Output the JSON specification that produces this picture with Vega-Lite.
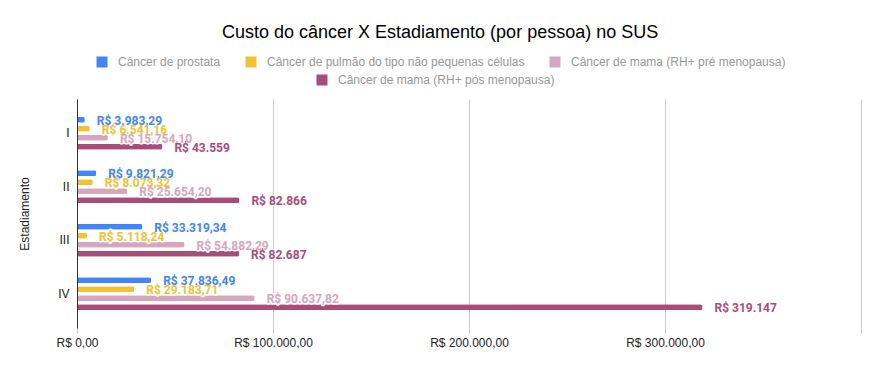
{
  "$schema": "https://vega.github.io/schema/vega-lite/v6.json",
  "width": 784,
  "height": 229,
  "autosize": "none",
  "padding": {"left": 77, "top": 99, "right": 19, "bottom": 43},
  "background": "white",
  "title": {
    "text": "Custo do câncer X Estadiamento (por pessoa) no SUS",
    "font": "Liberation Sans",
    "fontSize": 18,
    "fontWeight": "normal",
    "color": "#000000",
    "anchor": "middle",
    "frame": "bounds",
    "offset": 14
  },
  "data": {
    "values": [
      {"estadio": "I", "tipo": "Câncer de prostata", "valor": 3983.29, "rotulo": "R$ 3.983,29"},
      {"estadio": "I", "tipo": "Câncer de pulmão do tipo não pequenas células", "valor": 6541.16, "rotulo": "R$ 6.541,16"},
      {"estadio": "I", "tipo": "Câncer de mama (RH+ pré menopausa)", "valor": 15754.10, "rotulo": "R$ 15.754,10"},
      {"estadio": "I", "tipo": "Câncer de mama (RH+ pós menopausa)", "valor": 43559, "rotulo": "R$ 43.559"},
      {"estadio": "II", "tipo": "Câncer de prostata", "valor": 9821.29, "rotulo": "R$ 9.821,29"},
      {"estadio": "II", "tipo": "Câncer de pulmão do tipo não pequenas células", "valor": 8073.32, "rotulo": "R$ 8.073,32"},
      {"estadio": "II", "tipo": "Câncer de mama (RH+ pré menopausa)", "valor": 25654.20, "rotulo": "R$ 25.654,20"},
      {"estadio": "II", "tipo": "Câncer de mama (RH+ pós menopausa)", "valor": 82866, "rotulo": "R$ 82.866"},
      {"estadio": "III", "tipo": "Câncer de prostata", "valor": 33319.34, "rotulo": "R$ 33.319,34"},
      {"estadio": "III", "tipo": "Câncer de pulmão do tipo não pequenas células", "valor": 5118.24, "rotulo": "R$ 5.118,24"},
      {"estadio": "III", "tipo": "Câncer de mama (RH+ pré menopausa)", "valor": 54882.29, "rotulo": "R$ 54.882,29"},
      {"estadio": "III", "tipo": "Câncer de mama (RH+ pós menopausa)", "valor": 82687, "rotulo": "R$ 82.687"},
      {"estadio": "IV", "tipo": "Câncer de prostata", "valor": 37836.49, "rotulo": "R$ 37.836,49"},
      {"estadio": "IV", "tipo": "Câncer de pulmão do tipo não pequenas células", "valor": 29183.71, "rotulo": "R$ 29.183,71"},
      {"estadio": "IV", "tipo": "Câncer de mama (RH+ pré menopausa)", "valor": 90637.82, "rotulo": "R$ 90.637,82"},
      {"estadio": "IV", "tipo": "Câncer de mama (RH+ pós menopausa)", "valor": 319147, "rotulo": "R$ 319.147"}
    ]
  },
  "encoding": {
    "y": {
      "field": "estadio",
      "type": "nominal",
      "sort": ["I", "II", "III", "IV"],
      "scale": {"paddingInner": 0.35, "paddingOuter": 0.315},
      "axis": {
        "title": "Estadiamento",
        "titleFont": "Liberation Sans",
        "titleFontSize": 12,
        "titleFontWeight": "normal",
        "titleColor": "#222222",
        "titlePadding": 26,
        "labelFont": "Liberation Sans",
        "labelFontSize": 12,
        "labelColor": "#222222",
        "labelAngle": 0,
        "labelPadding": 8,
        "ticks": false,
        "domain": true,
        "domainColor": "#333333",
        "domainWidth": 1,
        "grid": false,
        "zindex": 2
      }
    },
    "yOffset": {
      "field": "tipo",
      "type": "nominal",
      "sort": [
        "Câncer de prostata",
        "Câncer de pulmão do tipo não pequenas células",
        "Câncer de mama (RH+ pré menopausa)",
        "Câncer de mama (RH+ pós menopausa)"
      ],
      "scale": {"paddingInner": 0.333, "paddingOuter": 0.1}
    },
    "x": {
      "field": "valor",
      "type": "quantitative",
      "scale": {"domain": [0, 400000], "nice": false},
      "axis": {
        "title": null,
        "values": [0, 100000, 200000, 300000, 400000],
        "labelExpr": "datum.value == 400000 ? '' : 'R$ ' + replace(replace(replace(format(datum.value, ',.2f'), /,/g, '_'), /\\./g, ','), /_/g, '.')",
        "labelFont": "Liberation Sans",
        "labelFontSize": 12,
        "labelColor": "#222222",
        "labelFlush": false,
        "labelPadding": 4,
        "grid": true,
        "gridColor": "#cccccc",
        "domain": false,
        "ticks": true,
        "tickColor": "#cccccc",
        "tickSize": 5
      }
    }
  },
  "layer": [
    {
      "mark": {"type": "bar", "cornerRadius": 2},
      "encoding": {
        "color": {
          "field": "tipo",
          "type": "nominal",
          "scale": {
            "domain": [
              "Câncer de prostata",
              "Câncer de pulmão do tipo não pequenas células",
              "Câncer de mama (RH+ pré menopausa)",
              "Câncer de mama (RH+ pós menopausa)"
            ],
            "range": ["#4285F4", "#F1C232", "#D5A6BD", "#A64D79"]
          },
          "legend": {
            "title": null,
            "orient": "none",
            "legendX": 19,
            "legendY": -43,
            "values": [
              "Câncer de prostata",
              "Câncer de pulmão do tipo não pequenas células",
              "Câncer de mama (RH+ pré menopausa)"
            ]
          }
        }
      }
    },
    {
      "mark": {
        "type": "text",
        "align": "left",
        "baseline": "middle",
        "dx": 12,
        "dy": 1,
        "font": "Roboto",
        "fontSize": 12,
        "fontWeight": "bold",
        "fill": "white",
        "stroke": "white",
        "strokeWidth": 3,
        "strokeJoin": "round"
      },
      "encoding": {"text": {"field": "rotulo"}}
    },
    {
      "mark": {
        "type": "text",
        "align": "left",
        "baseline": "middle",
        "dx": 12,
        "dy": 1,
        "font": "Roboto",
        "fontSize": 12,
        "fontWeight": "bold"
      },
      "encoding": {
        "text": {"field": "rotulo"},
        "fill": {
          "field": "tipo",
          "type": "nominal",
          "scale": {
            "domain": [
              "Câncer de mama (RH+ pós menopausa)",
              "Câncer de prostata",
              "Câncer de pulmão do tipo não pequenas células",
              "Câncer de mama (RH+ pré menopausa)"
            ],
            "range": ["#A64D79", "#4285F4", "#F1C232", "#D5A6BD"]
          },
          "legend": {
            "title": null,
            "orient": "none",
            "legendX": 239,
            "legendY": -25,
            "symbolType": "square",
            "values": ["Câncer de mama (RH+ pós menopausa)"]
          }
        }
      }
    }
  ],
  "config": {
    "view": {"stroke": null},
    "legend": {
      "direction": "horizontal",
      "symbolType": "square",
      "symbolSize": 121,
      "symbolStrokeWidth": 0,
      "symbolOpacity": 1,
      "labelFont": "Liberation Sans",
      "labelFontSize": 12,
      "labelColor": "#999999",
      "labelLimit": 400,
      "labelOffset": 10,
      "columnPadding": 24,
      "padding": 0
    }
  }
}
